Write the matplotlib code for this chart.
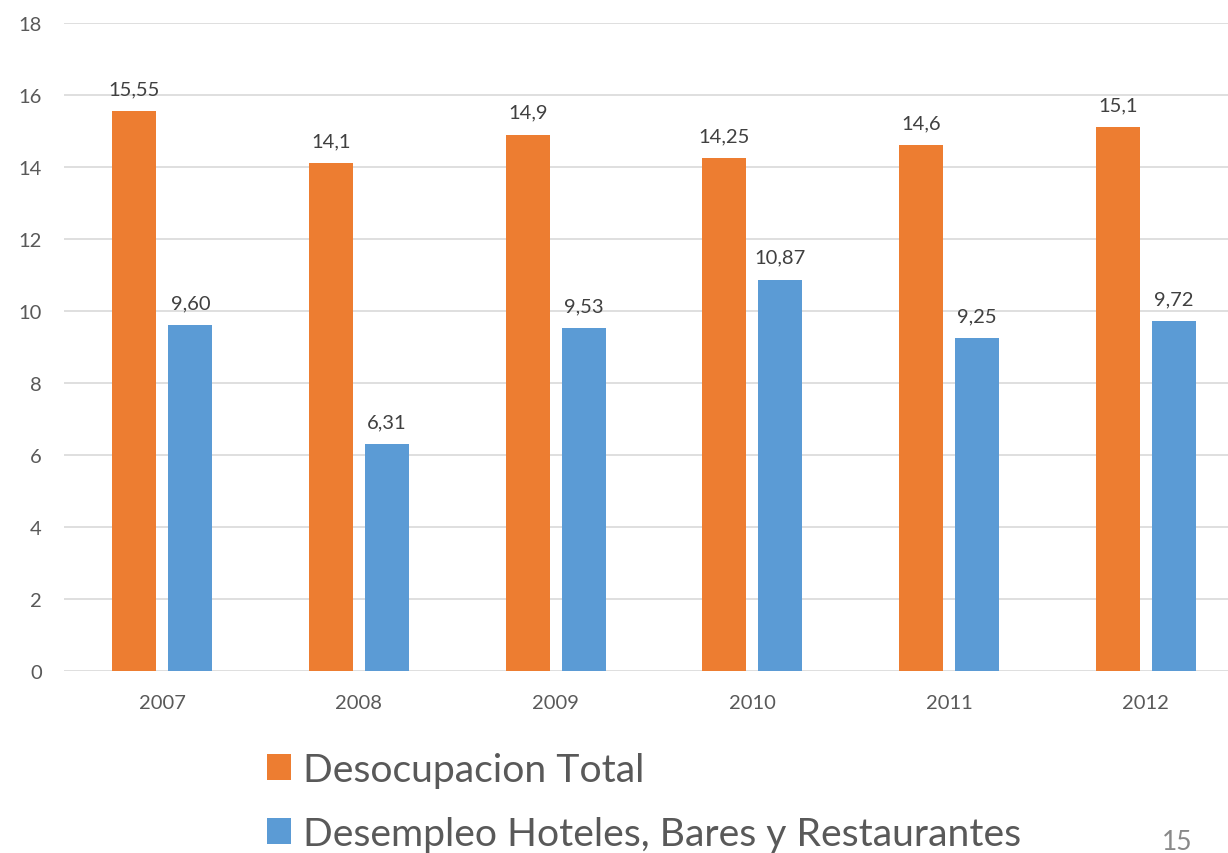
import matplotlib
matplotlib.use("Agg")
import matplotlib.pyplot as plt
import numpy as np

years = ["2007", "2008", "2009", "2010", "2011", "2012"]
desocupacion = [15.55, 14.1, 14.9, 14.25, 14.6, 15.1]
desocupacion_labels = ["15,55", "14,1", "14,9", "14,25", "14,6", "15,1"]
desempleo = [9.60, 6.31, 9.53, 10.87, 9.25, 9.72]
desempleo_labels = ["9,60", "6,31", "9,53", "10,87", "9,25", "9,72"]
series_names = ["Desocupacion Total", "Desempleo Hoteles, Bares y Restaurantes"]
y_ticks = [0, 2, 4, 6, 8, 10, 12, 14, 16, 18]

plt.rcParams['font.family'] = ['Lato', 'DejaVu Sans']
ORANGE = "#ED7D31"
BLUE = "#5B9BD5"
TXT = "#595959"

W, H = 1228, 854
fig = plt.figure(figsize=(W / 100, H / 100), dpi=100)
left, right, top, bottom = 64, 1244, 24, 672
ax = fig.add_axes([left / W, 1 - bottom / H, (right - left) / W, (bottom - top) / H])

x = np.arange(len(years))
bw = 0.224
off = 0.1425
b1 = ax.bar(x - off, desocupacion, bw, color=ORANGE, zorder=3, label=series_names[0])
b2 = ax.bar(x + off, desempleo, bw, color=BLUE, zorder=3, label=series_names[1])

for bars, labs in ((b1, desocupacion_labels), (b2, desempleo_labels)):
    for rect, lab in zip(bars, labs):
        ax.annotate(lab, (rect.get_x() + rect.get_width() / 2, rect.get_height()),
                    xytext=(0, 10), textcoords="offset points", ha="center", va="bottom",
                    fontsize=14.5, color="#404040")

ax.set_xlim(-0.5, len(years) - 0.5)
ax.set_ylim(0, 18)
ax.set_yticks(y_ticks)
ax.set_xticks(x)
ax.set_xticklabels(years)
ax.tick_params(axis="both", length=0, labelsize=14.5, labelcolor=TXT)
ax.tick_params(axis="y", pad=16)
ax.tick_params(axis="x", pad=16.5)
ax.yaxis.grid(True, color="#D9D9D9", linewidth=1.2, zorder=0)
ax.set_axisbelow(True)
for s in ax.spines.values():
    s.set_visible(False)

leg = fig.legend(handles=[b1, b2], labels=series_names, loc="upper left",
                 bbox_to_anchor=(251 / W, 1 - 737 / H), frameon=False,
                 fontsize=28.2, labelcolor=TXT, handlelength=0.62, handleheight=0.62,
                 handletextpad=0.3, labelspacing=0.72, borderaxespad=0)

fig.text(1177 / W, 1 - 843 / H, "15", ha="center", va="center", fontsize=19, color="#898989")

fig.savefig("out.png", dpi=100)
